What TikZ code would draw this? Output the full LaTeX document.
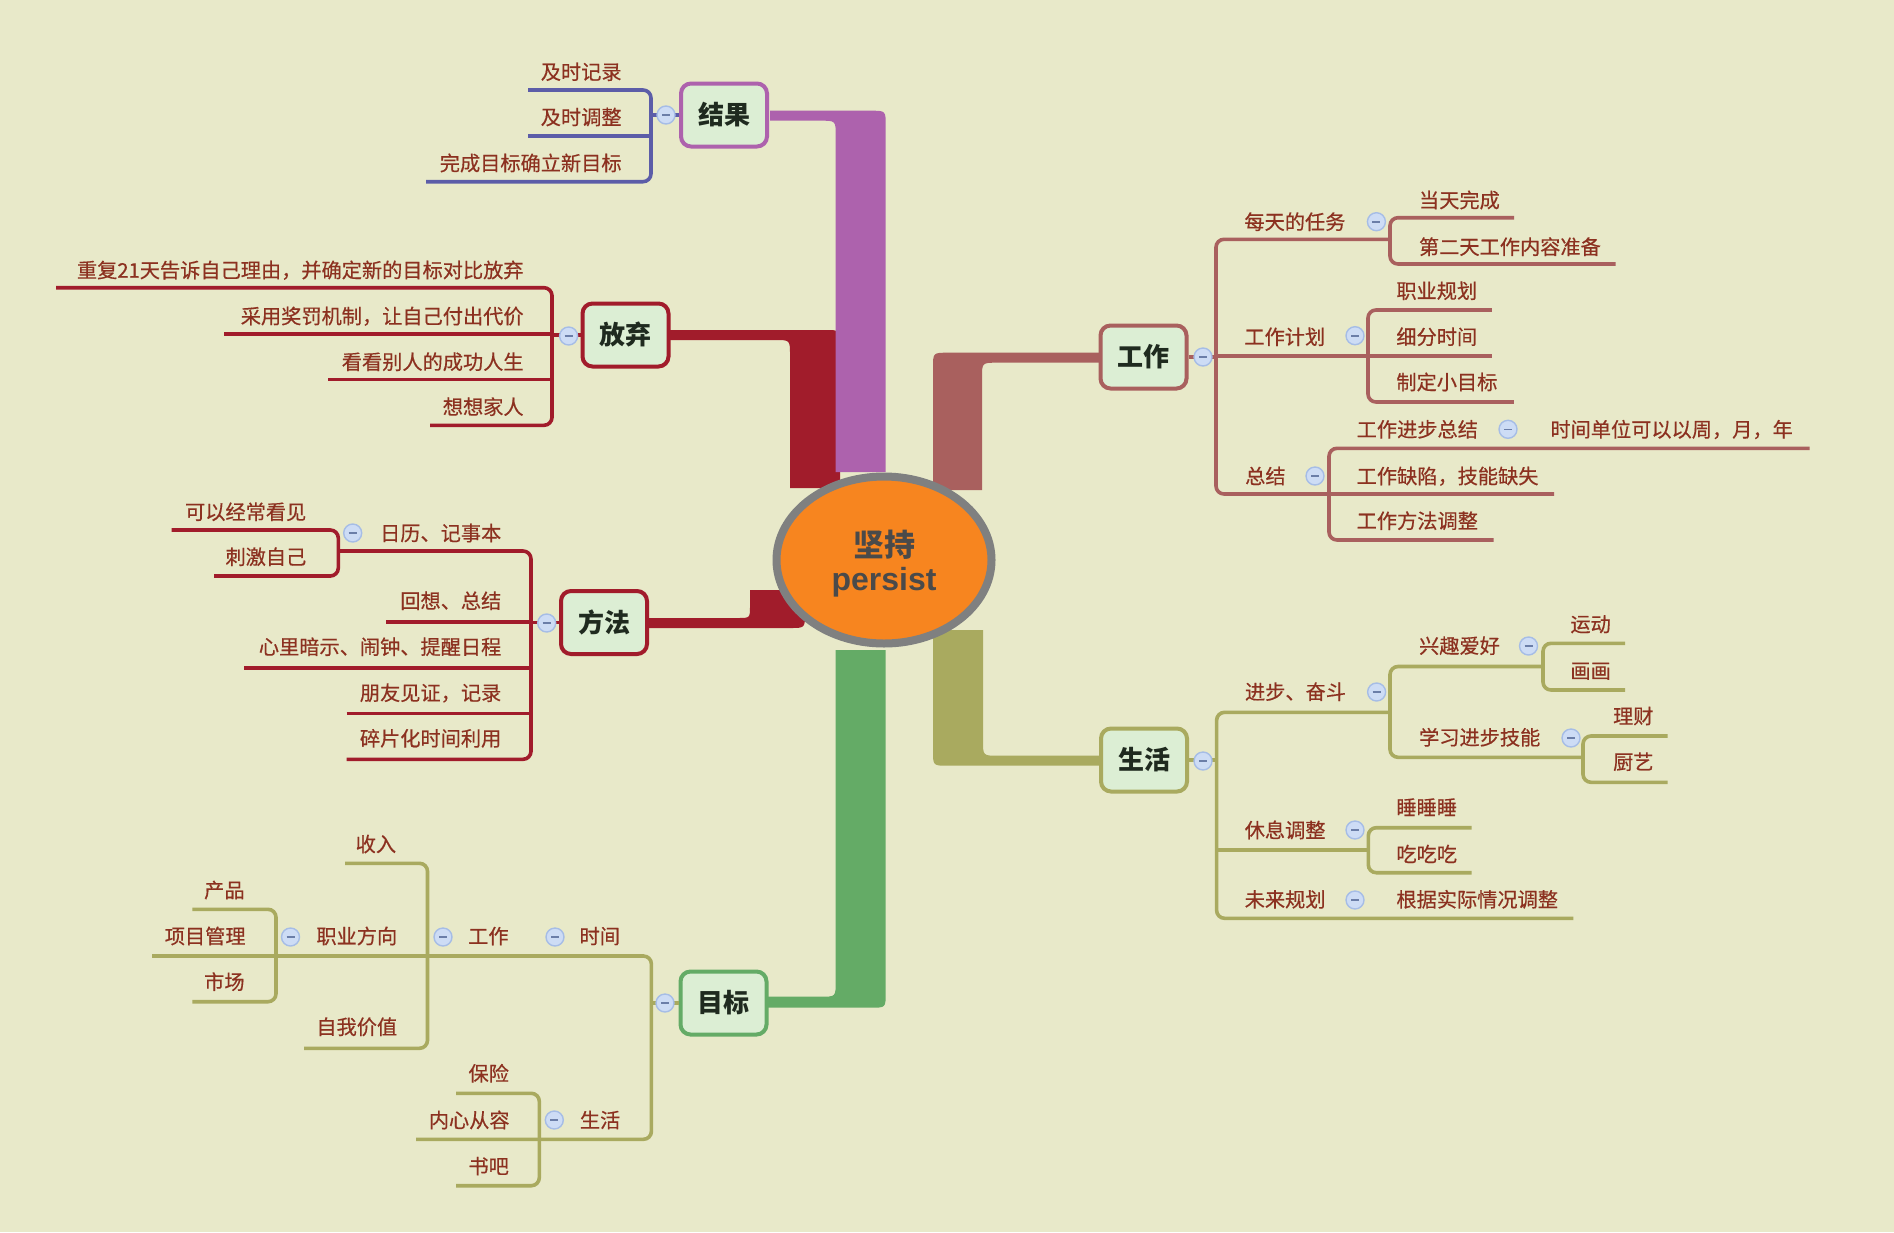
\documentclass[tikz,border=0pt]{standalone}
\usepackage{fontspec}
\newfontfamily\cjk{Noto Sans CJK SC}
\newfontfamily\cjkm[FakeBold=0.45]{Noto Sans CJK SC}
\newfontfamily\latf{Liberation Sans}
\usetikzlibrary{shapes.geometric}
\definecolor{bgc}{HTML}{E8E9C9}
\definecolor{cpur}{HTML}{AD62AD}
\definecolor{cred}{HTML}{A11C2B}
\definecolor{cbrn}{HTML}{A9605E}
\definecolor{coli}{HTML}{A9AA5F}
\definecolor{cgrn}{HTML}{64AB66}
\definecolor{cblu}{HTML}{5C5DA8}
\definecolor{boxf}{HTML}{DCEED4}
\definecolor{boxt}{HTML}{1F2A1F}
\definecolor{txtc}{HTML}{8C3120}
\definecolor{ellf}{HTML}{F7851F}
\definecolor{elld}{HTML}{7F8080}
\definecolor{ellt}{HTML}{4A4A4A}
\definecolor{cbf}{HTML}{CDDCF5}
\definecolor{cbd}{HTML}{A6BDE6}
\definecolor{cbm}{HTML}{6B7EA8}
\newcommand\TxL[4]{\node[ltxt] (#1) at (#2,#3) {#4};}
\newcommand\TxR[4]{\node[rtxt] (#1) at (#2,#3) {#4};}
\newcommand\Cbtn[3]{\node[cbtn] (#1) at (#2,#3) {};}
\begin{document}
\begin{tikzpicture}[x=0.5pt,y=-0.5pt,
  txt/.style={inner sep=0pt, text height=8.9pt, text depth=1.2pt, font=\cjkm\fontsize{10.1pt}{12pt}\selectfont, text=txtc},
  ltxt/.style={txt, anchor=east},
  rtxt/.style={txt, anchor=west},
  mainbox/.style={draw, line width=2pt, rounded corners=5pt, fill=boxf, minimum width=43pt, minimum height=31.5pt, inner sep=0pt, text height=11.4pt, text depth=1.6pt, font=\cjk\bfseries\fontsize{13pt}{15pt}\selectfont, text=boxt},
  brline/.style={line width=1.8pt, rounded corners=4pt},
  cbtn/.style={circle, draw=cbd, fill=cbf, line width=0.7pt, minimum size=9pt, inner sep=0pt,
    path picture={\draw[cbm, line width=0.8pt] (path picture bounding box.center) ++(-2pt,0) -- ++(4pt,0);}},
]
\useasboundingbox (0,0) rectangle (1894,1232);
\fill[bgc] (0,0) rectangle (1894,1232);

% main branches
\fill[cred] (669,330) -- (825,330) .. controls (840,330) .. (840,345) -- (840,488) -- (790,488) -- (790,355) .. controls (790,340) .. (775,340) -- (669,340) -- cycle;
\fill[cpur] (770,110.7) -- (870.7,110.7) .. controls (885.7,110.7) .. (885.7,125.7) -- (885.7,472) -- (835.7,472) -- (835.7,135.7) .. controls (835.7,120.7) .. (820.7,120.7) -- (770,120.7) -- cycle;
\fill[cred] (649,618) -- (738,618) .. controls (750,618) .. (750,606) -- (750,590) -- (805,590) -- (805,613) .. controls (805,628) .. (790,628) -- (649,628) -- cycle;
\fill[cbrn] (1100,352.7) -- (948,352.7) .. controls (933,352.7) .. (933,367.7) -- (933,490) -- (982,490) -- (982,377.7) .. controls (982,362.7) .. (997,362.7) -- (1100,362.7) -- cycle;
\fill[coli] (1100,765.7) -- (948,765.7) .. controls (933,765.7) .. (933,750.7) -- (933,630) -- (983,630) -- (983,740.7) .. controls (983,755.7) .. (998,755.7) -- (1100,755.7) -- cycle;
\fill[cgrn] (768,1007.7) -- (870.7,1007.7) .. controls (885.7,1007.7) .. (885.7,992.7) -- (885.7,650) -- (835.7,650) -- (835.7,981.7) .. controls (835.7,996.7) .. (820.7,996.7) -- (768,996.7) -- cycle;

% centre
\node[ellipse, draw=elld, fill=ellf, line width=4pt, minimum width=107.5pt, minimum height=83.5pt, inner sep=0pt] (root) at (884,560) {};
\node[inner sep=0pt, text height=13.6pt, text depth=1.9pt, font=\cjk\bfseries\fontsize{15.5pt}{18pt}\selectfont, text=ellt] (rcn) at (884,545) {坚持};
\node[anchor=base, inner sep=0pt, font=\latf\bfseries\fontsize{16pt}{18pt}\selectfont, text=ellt] (ren) at (884,590) {persist};

% main topics
\node[mainbox, draw=cpur] (jg) at (724,115) {结果};
\node[mainbox, draw=cred] (fq) at (625.5,335) {放弃};
\node[mainbox, draw=cred] (ff) at (604,622.5) {方法};
\node[mainbox, draw=cbrn] (gz) at (1143.5,357) {工作};
\node[mainbox, draw=coli] (sh) at (1144,760) {生活};
\node[mainbox, draw=cgrn] (mb) at (723.5,1003) {目标};

% 结果 lines
\begin{scope}[brline, cblu]
\draw (528,90) -- (651,90) -- (651,181.7) -- (426,181.7);
\draw (528,136) -- (651,136);
\draw (651,115) -- (jg.west);
\end{scope}
% 放弃 lines
\begin{scope}[brline, cred]
\draw (56,287.7) -- (552,287.7) -- (552,425.3) -- (430,425.3);
\draw (224,333.7) -- (552,333.7);
\draw (328,379.3) -- (552,379.3);
\draw (552,335) -- (fq.west);
\end{scope}
% 方法 lines
\begin{scope}[brline, cred]
\draw (171.7,530) -- (338.3,530) -- (338.3,576) -- (214,576);
\draw (338.3,551) -- (531,551) -- (531,759.3) -- (346.7,759.3);
\draw (386,621.7) -- (531,621.7);
\draw (244.3,667.7) -- (531,667.7);
\draw (346.7,713.3) -- (531,713.3);
\draw (531,622.5) -- (ff.west);
\end{scope}
% 工作 lines
\begin{scope}[brline, cbrn]
\draw (1390,239.3) -- (1216,239.3) -- (1216,494) -- (1554,494);
\draw (1514,217.7) -- (1390,217.7) -- (1390,264) -- (1615.7,264);
\draw (1216,355.7) -- (1491.8,355.7);
\draw (1491.8,310) -- (1368,310) -- (1368,402) -- (1513.8,402);
\draw (1809.5,448.3) -- (1329,448.3) -- (1329,540) -- (1493.5,540);
\draw (gz.east) -- (1216,357);
\end{scope}
% 生活 lines
\begin{scope}[brline, coli]
\draw (1390,712.3) -- (1216.6,712.3) -- (1216.6,918.3) -- (1573.3,918.3);
\draw (1543,666.5) -- (1390,666.5) -- (1390,757.3) -- (1583,757.3);
\draw (1625,643.3) -- (1543,643.3) -- (1543,690) -- (1625,690);
\draw (1667.5,736) -- (1583,736) -- (1583,782.3) -- (1667.5,782.3);
\draw (1216.6,850) -- (1368.3,850);
\draw (1471.7,827.7) -- (1368.3,827.7) -- (1368.3,872.7) -- (1471.7,872.7);
\draw (sh.east) -- (1216.6,760);
\end{scope}
% 目标 lines
\begin{scope}[brline, coli]
\draw (152,956) -- (651.4,956) -- (651.4,1139.3) -- (416,1139.3);
\draw (345,863.3) -- (427.5,863.3) -- (427.5,1048.3) -- (304,1048.3);
\draw (192.3,909.3) -- (276,909.3) -- (276,1001.7) -- (192.3,1001.7);
\draw (456,1093.3) -- (539.3,1093.3) -- (539.3,1185.7) -- (456,1185.7);
\draw (651.4,1003) -- (mb.west);
\end{scope}

% collapse buttons
\Cbtn{b1}{666}{115}
\Cbtn{b2}{568.6}{336}
\Cbtn{b3}{546.7}{623}
\Cbtn{b4}{352.7}{533}
\Cbtn{b5}{1203}{357}
\Cbtn{b6}{1376.4}{221.7}
\Cbtn{b7}{1355}{335.7}
\Cbtn{b8}{1315}{476}
\Cbtn{b9}{1508}{429.3}
\Cbtn{b10}{1203}{761}
\Cbtn{b11}{1376.6}{692}
\Cbtn{b12}{1528.5}{646}
\Cbtn{b13}{1571}{738}
\Cbtn{b14}{1355}{830}
\Cbtn{b15}{1355}{900}
\Cbtn{b16}{665}{1003}
\Cbtn{b17}{555}{937}
\Cbtn{b18}{443}{937}
\Cbtn{b19}{290.5}{937}
\Cbtn{b20}{554.3}{1120}

% texts 结果
\TxL{r1}{622}{71.7}{及时记录}
\TxL{r2}{622}{117}{及时调整}
\TxL{r3}{622}{163}{完成目标确立新目标}
% 放弃
\TxL{q1}{524}{270}{重复21天告诉自己理由，并确定新的目标对比放弃}
\TxL{q2}{524}{316}{采用奖罚机制，让自己付出代价}
\TxL{q3}{524}{361.7}{看看别人的成功人生}
\TxL{q4}{524}{406.7}{想想家人}
% 方法
\TxL{f1}{306.7}{511.7}{可以经常看见}
\TxL{f2}{306.7}{556.7}{刺激自己}
\TxL{f3}{501.7}{533}{日历、记事本}
\TxL{f4}{501.7}{600.7}{回想、总结}
\TxL{f5}{501.7}{646.7}{心里暗示、闹钟、提醒日程}
\TxL{f6}{501.7}{692.7}{朋友见证，记录}
\TxL{f7}{501.7}{738.3}{碎片化时间利用}
% 工作
\TxR{w1}{1244}{221.7}{每天的任务}
\TxR{w2}{1418.6}{200}{当天完成}
\TxR{w3}{1418.6}{246.7}{第二天工作内容准备}
\TxR{w4}{1244}{336.7}{工作计划}
\TxR{w5}{1396}{290.7}{职业规划}
\TxR{w6}{1396}{336.7}{细分时间}
\TxR{w7}{1396}{382}{制定小目标}
\TxR{w8}{1244.8}{476}{总结}
\TxR{w9}{1356.3}{429.3}{工作进步总结}
\TxR{w10}{1550}{429.3}{时间单位可以以周，月，年}
\TxR{w11}{1356.3}{476}{工作缺陷，技能缺失}
\TxR{w12}{1356.3}{520.7}{工作方法调整}
% 生活
\TxR{s1}{1244.6}{691.7}{进步、奋斗}
\TxR{s2}{1418.7}{645.7}{兴趣爱好}
\TxR{s3}{1570}{624}{运动}
\TxR{s4}{1570}{670.7}{画画}
\TxR{s5}{1418.7}{737.3}{学习进步技能}
\TxR{s6}{1612.7}{716}{理财}
\TxR{s7}{1612.7}{761.7}{厨艺}
\TxR{s8}{1244.3}{830}{休息调整}
\TxR{s9}{1396}{807.3}{睡睡睡}
\TxR{s10}{1396}{854}{吃吃吃}
\TxR{s11}{1244.3}{899.3}{未来规划}
\TxR{s12}{1396}{899.3}{根据实际情况调整}
% 目标
\TxL{m1}{620.4}{936}{时间}
\TxL{m2}{509}{936}{工作}
\TxL{m3}{396.5}{844}{收入}
\TxL{m4}{397.6}{936}{职业方向}
\TxL{m5}{397.6}{1026.7}{自我价值}
\TxL{m6}{245}{890}{产品}
\TxL{m7}{246}{936}{项目管理}
\TxL{m8}{245}{981.7}{市场}
\TxL{m9}{620.7}{1120}{生活}
\TxL{m10}{509.3}{1073.3}{保险}
\TxL{m11}{510}{1120}{内心从容}
\TxL{m12}{509.3}{1166}{书吧}
\end{tikzpicture}
\end{document}
